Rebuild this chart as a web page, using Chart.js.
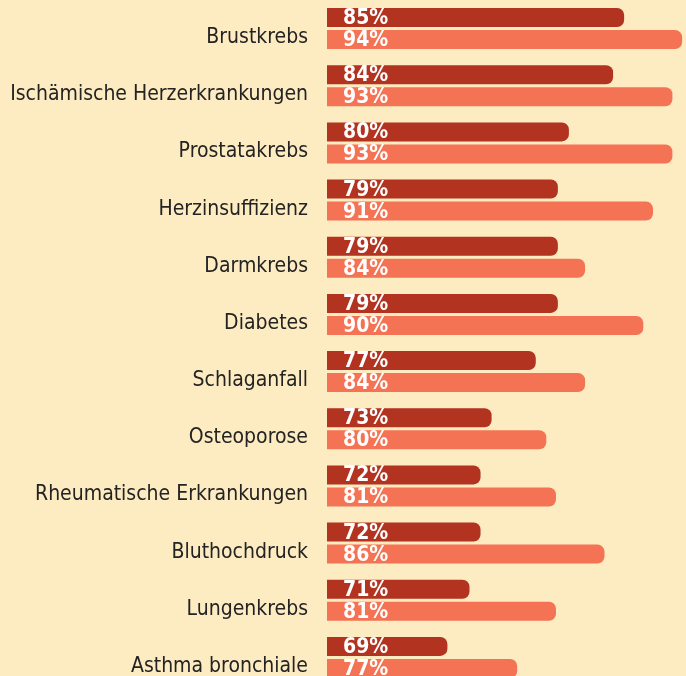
<!DOCTYPE html>
<html>
<head>
<meta charset="utf-8">
<script src="https://cdn.jsdelivr.net/npm/chart.js@4"></script>
<style>
  html, body { margin: 0; padding: 0; background: #fdebc1; overflow: hidden; }
  #wrap { width: 686px; height: 686px; }
</style>
</head>
<body>
<div id="wrap"><canvas id="myChart" width="686" height="686"></canvas></div>
<script>
// categories, top to bottom
const categories = [
  "Brustkrebs",
  "Ischämische Herzerkrankungen",
  "Prostatakrebs",
  "Herzinsuffizienz",
  "Darmkrebs",
  "Diabetes",
  "Schlaganfall",
  "Osteoporose",
  "Rheumatische Erkrankungen",
  "Bluthochdruck",
  "Lungenkrebs",
  "Asthma bronchiale",
];
// dark bars (upper) and light bars (lower), in percent
const darkValues = [85, 84, 80, 79, 79, 79, 77, 73, 72, 72, 71, 69];
const lightValues = [94, 93, 93, 91, 84, 90, 84, 80, 81, 86, 81, 77];

const darkColor = "#b23320";
const lightColor = "#f47354";
const labelFont = "'DejaVu Sans Condensed', 'DejaVu Sans', sans-serif";

// write the percent text inside each bar, near its start
const valueLabels = {
  id: "valueLabels",
  afterDraw(chart) {
    const c = chart.ctx;
    const left = chart.chartArea.left;
    c.save();
    c.fillStyle = "#ffffff";
    c.font = "bold 21px " + labelFont;
    c.textAlign = "left";
    c.textBaseline = "middle";
    chart.data.datasets.forEach((ds, i) => {
      const meta = chart.getDatasetMeta(i);
      meta.data.forEach((bar, j) => {
        c.fillText(ds.data[j] + "%", left + 16, bar.y + 1);
      });
    });
    c.restore();
  },
};

const ctx = document.querySelector("#myChart").getContext("2d");
new Chart(ctx, {
  type: "bar",
  data: {
    labels: categories,
    datasets: [
      {
        data: darkValues,
        backgroundColor: darkColor,
        xAxisID: "x",
        borderRadius: 7,
        borderSkipped: "start",
      },
      {
        data: lightValues,
        backgroundColor: lightColor,
        xAxisID: "x2",
        borderRadius: 7,
        borderSkipped: "start",
      },
    ],
  },
  options: {
    indexAxis: "y",
    responsive: false,
    animation: false,
    categoryPercentage: 0.77,
    barPercentage: 0.864,
    layout: { padding: 0 },
    plugins: {
      legend: { display: false },
      tooltip: { enabled: false },
    },
    scales: {
      // the two series sit on their own hidden value axes
      x: { display: false, min: 58.1, max: 90.6 },
      x2: { display: false, min: 57.4, max: 94.4 },
      y: {
        grid: { display: false, drawTicks: false },
        border: { display: false },
        afterFit: (scale) => {
          scale.width = 327;
          scale.paddingTop = 0;
          scale.paddingBottom = 0;
        },
        ticks: {
          color: "#232323",
          font: { family: labelFont, size: 21 },
          padding: 19,
          labelOffset: 9,
        },
      },
    },
  },
  plugins: [valueLabels],
});
</script>
</body>
</html>
